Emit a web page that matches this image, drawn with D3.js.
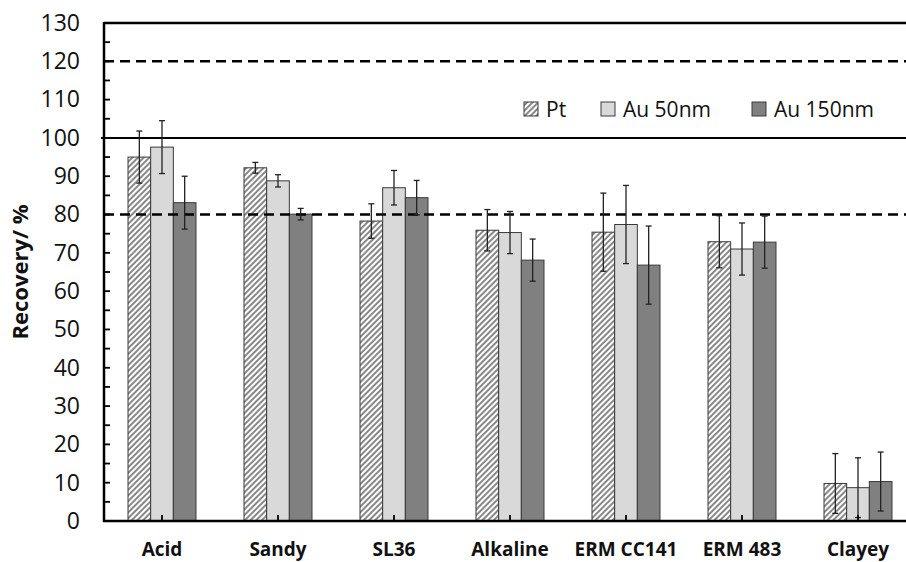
<!DOCTYPE html>
<html><head><meta charset="utf-8">
<script src="https://cdn.jsdelivr.net/npm/d3@7"></script>
<style>html,body{margin:0;padding:0;background:#fff;}svg{display:block;}</style>
</head><body>
<script>
const categories = ["Acid","Sandy","SL36","Alkaline","ERM CC141","ERM 483","Clayey"];
const seriesNames = ["Pt","Au 50nm","Au 150nm"];
const ptValues    = [95.0, 92.2, 78.3, 75.9, 75.4, 72.9, 9.8];
const ptErrors    = [6.8, 1.4, 4.5, 5.4, 10.2, 6.8, 7.8];
const au50Values  = [97.6, 88.8, 87.0, 75.3, 77.4, 71.0, 8.7];
const au50Errors  = [6.9, 1.6, 4.5, 5.5, 10.2, 6.8, 7.8];
const au150Values = [83.1, 80.1, 84.4, 68.1, 66.8, 72.8, 10.3];
const au150Errors = [6.9, 1.5, 4.5, 5.5, 10.2, 6.8, 7.7];
const yTicks = [0,10,20,30,40,50,60,70,80,90,100,110,120,130];
const refDashed = [80, 120];
const refSolid = [100];

(function(){
const W = 906, H = 562;
const svg = d3.select("body").append("svg").attr("width", W).attr("height", H);
const defs = svg.append("defs");
const pat = defs.append("pattern").attr("id","hatch").attr("patternUnits","userSpaceOnUse")
  .attr("width",4).attr("height",4).attr("patternTransform","rotate(45)");
pat.append("rect").attr("width",4).attr("height",4).attr("fill","#fff");
pat.append("line").attr("x1",1).attr("y1",0).attr("x2",1).attr("y2",4).attr("stroke","#6a6a6a").attr("stroke-width",1.6);

const mLeft = 104, mRight = 916, mTop = 23, mBottom = 521;
const y = d3.scaleLinear().domain([0,130]).range([mBottom, mTop]);
const x0 = d3.scaleBand().domain(categories).range([mLeft, mRight]).padding(0);
const groupW = 68;
const x1 = d3.scaleBand().domain(seriesNames).range([0, groupW]).padding(0);

const series = [
  {name:"Pt", values:ptValues, errors:ptErrors, fill:"url(#hatch)"},
  {name:"Au 50nm", values:au50Values, errors:au50Errors, fill:"#d9d9d9"},
  {name:"Au 150nm", values:au150Values, errors:au150Errors, fill:"#808080"}
];

series.forEach(s => {
  const g = svg.append("g");
  categories.forEach((c, i) => {
    const bx = x0(c) + (x0.bandwidth() - groupW)/2 + x1(s.name);
    g.append("rect").attr("x", bx).attr("y", y(s.values[i]))
      .attr("width", x1.bandwidth()).attr("height", y(0) - y(s.values[i]))
      .attr("fill", s.fill).attr("stroke", "#3a3a3a").attr("stroke-width", 1);
  });
});

refDashed.forEach(v => svg.append("line").attr("x1", mLeft).attr("x2", W).attr("y1", y(v)).attr("y2", y(v))
  .attr("stroke","#000").attr("stroke-width",2.5).attr("stroke-dasharray","10,6"));
refSolid.forEach(v => svg.append("line").attr("x1", mLeft-3).attr("x2", W).attr("y1", y(v)).attr("y2", y(v))
  .attr("stroke","#000").attr("stroke-width",2));
svg.append("line").attr("x1", mLeft).attr("x2", W).attr("y1", y(130)).attr("y2", y(130))
  .attr("stroke","#000").attr("stroke-width",2.5);

series.forEach(s => {
  const g = svg.append("g").attr("stroke","#222").attr("stroke-width",1.3);
  categories.forEach((c, i) => {
    const cx = x0(c) + (x0.bandwidth() - groupW)/2 + x1(s.name) + x1.bandwidth()/2;
    const hi = y(s.values[i] + s.errors[i]), lo = y(s.values[i] - s.errors[i]);
    g.append("line").attr("x1",cx).attr("x2",cx).attr("y1",hi).attr("y2",lo);
    g.append("line").attr("x1",cx-3).attr("x2",cx+3).attr("y1",hi).attr("y2",hi);
    g.append("line").attr("x1",cx-3).attr("x2",cx+3).attr("y1",lo).attr("y2",lo);
  });
});

const yAxis = d3.axisLeft(y).tickValues(yTicks).tickSize(0).tickPadding(24).tickFormat(d3.format("d"));
const ya = svg.append("g").attr("transform",`translate(${mLeft},0)`).call(yAxis);
ya.select(".domain").remove();
ya.selectAll("text").attr("font-family","'Open Sans', sans-serif").attr("font-size",23).attr("fill","#111");
d3.range(0,131,5).forEach(v => svg.append("line").attr("x1",mLeft).attr("x2",mLeft+6).attr("y1",y(v)).attr("y2",y(v))
  .attr("stroke","#000").attr("stroke-width",1.8));
svg.append("line").attr("x1",mLeft).attr("x2",mLeft).attr("y1",mTop-1).attr("y2",mBottom+1).attr("stroke","#000").attr("stroke-width",2.5);

const xAxis = d3.axisBottom(x0).tickSize(0).tickPadding(22);
const xa = svg.append("g").attr("transform",`translate(0,${mBottom})`).call(xAxis);
xa.select(".domain").remove();
xa.selectAll("text").attr("font-family","'Open Sans', sans-serif").attr("font-weight","bold").attr("font-size",19).attr("fill","#111");
categories.forEach(c => {
  const cx = x0(c) + x0.bandwidth()/2;
  svg.append("line").attr("x1",cx).attr("x2",cx).attr("y1",mBottom).attr("y2",mBottom-6).attr("stroke","#000").attr("stroke-width",1.8);
});
svg.append("line").attr("x1",mLeft-1).attr("x2",W).attr("y1",mBottom).attr("y2",mBottom).attr("stroke","#000").attr("stroke-width",2.5);

svg.append("text").attr("transform","translate(28,272) rotate(-90)").attr("text-anchor","middle")
  .attr("font-family","'Open Sans', sans-serif").attr("font-weight","bold").attr("font-size",22).attr("fill","#111")
  .text("Recovery/ %");

const legX = [524, 601, 752];
series.forEach((s, i) => {
  svg.append("rect").attr("x", legX[i]).attr("y", 102).attr("width", 14).attr("height", 14)
    .attr("fill", s.fill).attr("stroke","#3a3a3a").attr("stroke-width",1);
  svg.append("text").attr("x", legX[i] + 22).attr("y", 116.5)
    .attr("font-family","'Open Sans', sans-serif").attr("font-size",21).attr("fill","#111").text(s.name);
});
})();
</script>
</body></html>
